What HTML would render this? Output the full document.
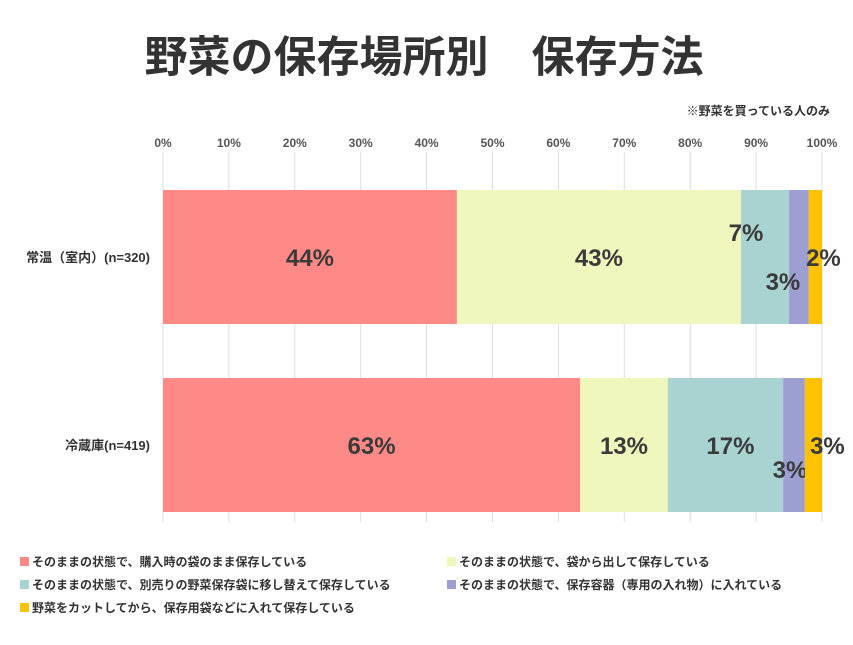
<!DOCTYPE html>
<html><head><meta charset="utf-8"><style>
body{margin:0;background:#fff;font-family:"Liberation Sans","Noto Sans CJK JP",sans-serif;}
svg text{font-family:"Liberation Sans","Noto Sans CJK JP",sans-serif;}
</style></head><body>
<svg id="chart" width="853" height="640">
<text x="424" y="72" text-anchor="middle" font-size="43" font-weight="bold" fill="#333">野菜の保存場所別　保存方法</text>
<text x="830" y="115" text-anchor="end" font-size="12" font-weight="bold" fill="#333">※野菜を買っている人のみ</text>
<g id="grid"></g><g id="bars"></g><g id="legend"></g>
</svg>
<script>
const categories=["常温（室内）(n=320)","冷蔵庫(n=419)"];
const series0=[44.6,63.3];
const series1=[43.1,13.3];
const series2=[7.3,17.5];
const series3=[3.0,3.3];
const series4=[2.0,2.6];
const labels0=["44%","63%"];
const labels1=["43%","13%"];
const labels2=["7%","17%"];
const labels3=["3%","3%"];
const labels4=["2%","3%"];
const ticks=[0,10,20,30,40,50,60,70,80,90,100];
const seriesNames=["そのままの状態で、購入時の袋のまま保存している","そのままの状態で、袋から出して保存している","そのままの状態で、別売りの野菜保存袋に移し替えて保存している","そのままの状態で、保存容器（専用の入れ物）に入れている","野菜をカットしてから、保存用袋などに入れて保存している"];
const NS="http://www.w3.org/2000/svg";
const colors=["#fe8a87","#f0f7bd","#a8d3d1","#9d9fd3","#fdc200"];
const labelDX=[[0,0],[0,0],[-19,5],[-16,-4],[8,14]];
const labelDY=[[0,0],[0,0],[-25,0],[24,24],[0,0]];
const x0=163,x1=822;
const xs=v=>x0+(x1-x0)*v/100;
const barY=[190,378],barH=134;
function mk(t,a,p){const e=document.createElementNS(NS,t);for(const k in a)e.setAttribute(k,a[k]);p.appendChild(e);return e;}
const grid=document.getElementById('grid');
ticks.forEach(t=>{
 const l=mk('line',{x1:xs(t),x2:xs(t),y1:152,y2:522,stroke:'#ddd','stroke-width':1},grid);
 
 
 const tx=mk('text',{x:xs(t),y:147,'text-anchor':'middle','font-size':12,'font-weight':'bold',fill:'#555'},grid);
 tx.textContent=t+'%';
 
 
});
const bars=document.getElementById('bars');
const all=[series0,series1,series2,series3,series4];
const labs=[labels0,labels1,labels2,labels3,labels4];
categories.forEach((c,i)=>{
 const ct=mk('text',{x:150,y:barY[i]+barH/2+5,'text-anchor':'end','font-size':13,'font-weight':'bold',fill:'#333'},bars);
 ct.textContent=c;
 
 
 let acc=0;
 all.forEach((s,j)=>{
  const r=mk('rect',{x:xs(acc),y:barY[i],width:xs(acc+s[i])-xs(acc),height:barH,fill:colors[j]},bars);
  
  
  const cx=xs(acc+s[i]/2)+labelDX[j][i];
  const t=mk('text',{x:cx,y:barY[i]+barH/2+9+labelDY[j][i],'text-anchor':'middle','font-size':24,'font-weight':'bold',fill:'#3a3a3a'},bars);
  t.textContent=labs[j][i];
  
  
  acc+=s[i];
 });
});
const lg=document.getElementById('legend');
const lpos=[[20,566],[447,566],[20,589],[447,589],[20,612]];
seriesNames.forEach((n,j)=>{
 const g=mk('g',{},lg);
 
 
 mk('rect',{x:lpos[j][0],y:lpos[j][1]-9,width:9,height:9,fill:colors[j]},g);
 const t=mk('text',{x:lpos[j][0]+12,y:lpos[j][1],'font-size':12,'font-weight':'bold',fill:'#333'},g);
 t.textContent=n;
});
</script>
</body></html>
